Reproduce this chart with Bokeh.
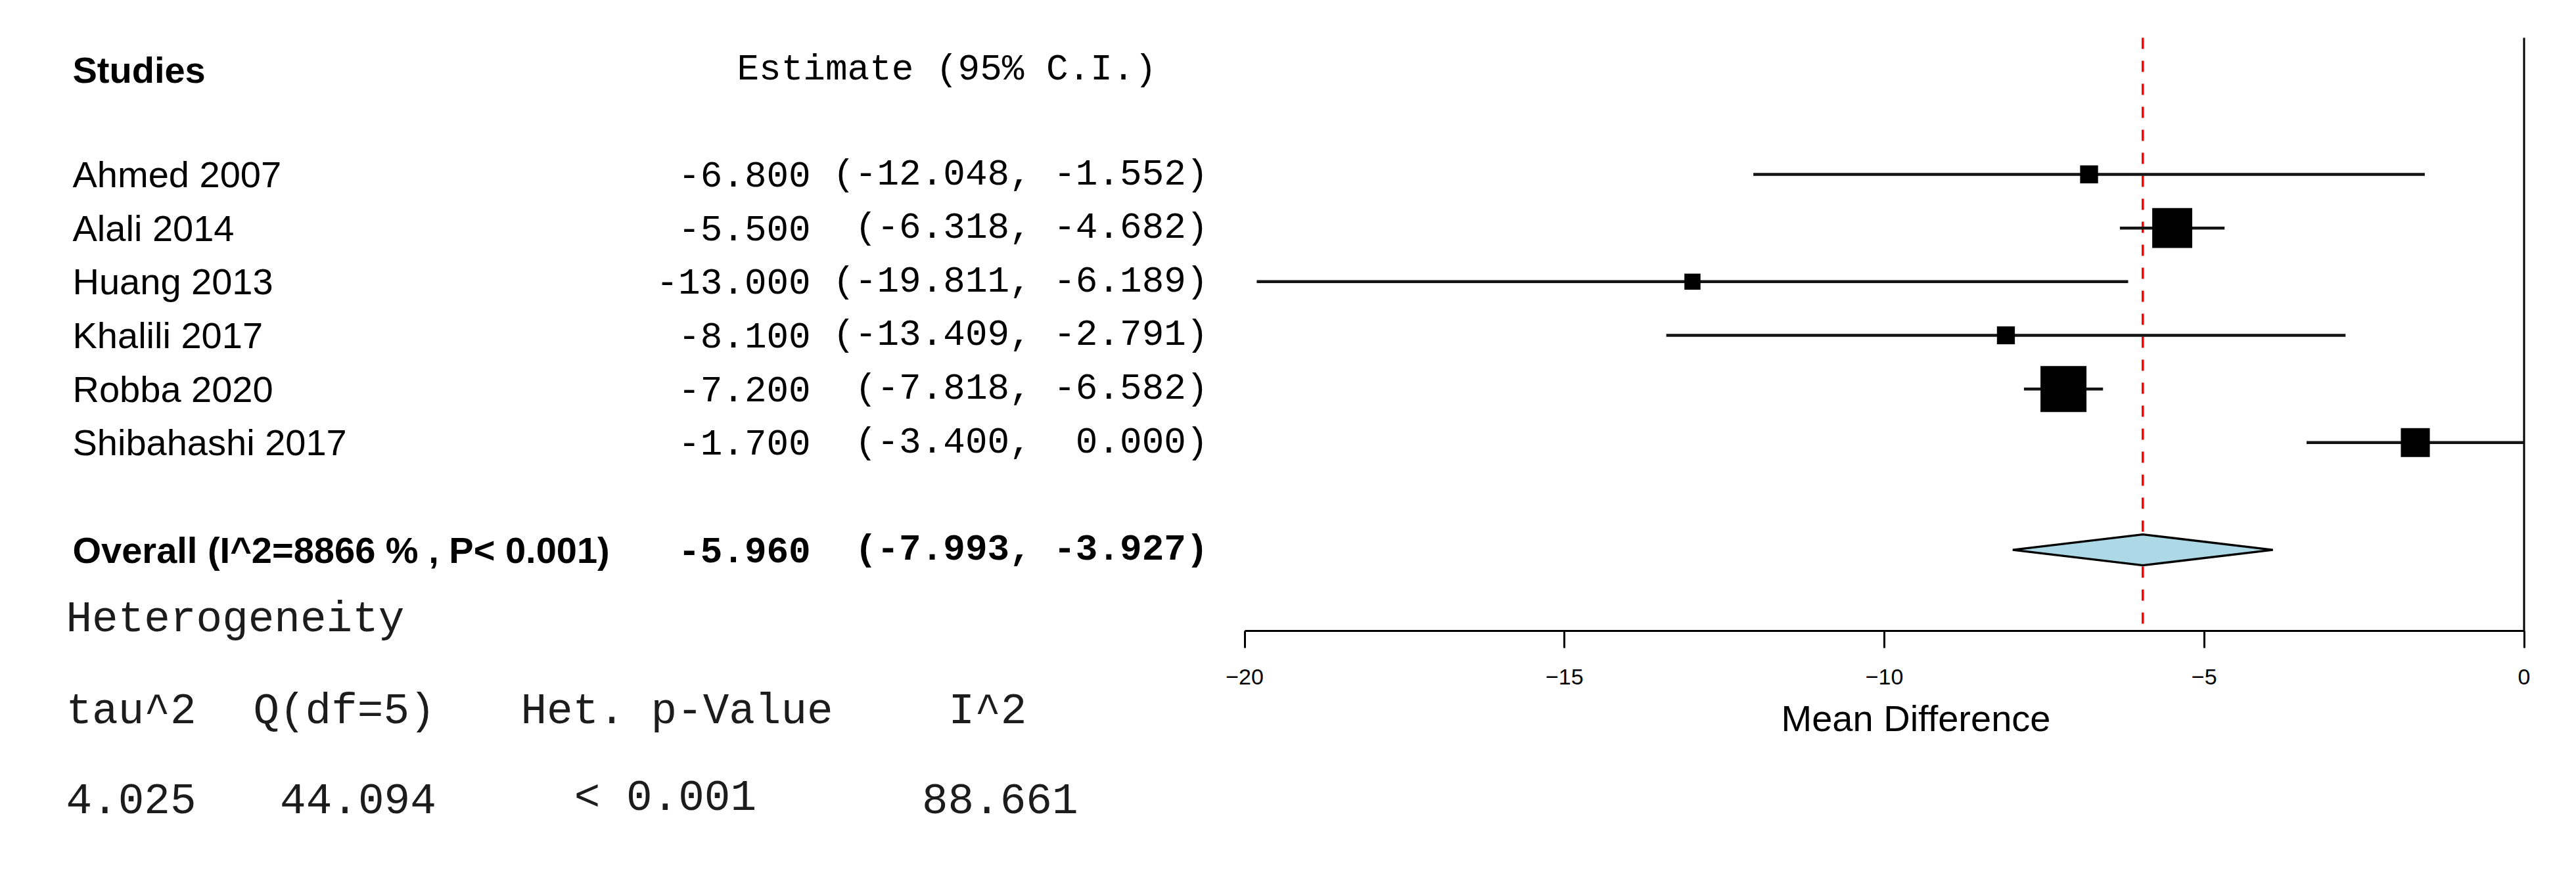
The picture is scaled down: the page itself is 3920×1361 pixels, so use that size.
from bokeh.plotting import figure
from bokeh.layouts import row
from bokeh.models import Range1d, FixedTicker, CustomJSTickFormatter
from bokeh.core.properties import value
from bokeh.embed import file_html
from bokeh.resources import INLINE

# ---------------- data ----------------
studies = ["Ahmed  2007", "Alali 2014", "Huang 2013", "Khalili 2017", "Robba 2020", "Shibahashi 2017"]
estimates = [-6.800, -5.500, -13.000, -8.100, -7.200, -1.700]
ci_lower = [-12.048, -6.318, -19.811, -13.409, -7.818, -3.400]
ci_upper = [-1.552, -4.682, -6.189, -2.791, -6.582, 0.000]
weights = [3.9, 8.7, 3.5, 3.9, 10.0, 6.3]   # relative box weights

overall_label = "Overall (I^2=8866 % , P< 0.001)"
overall_est = -5.960
overall_lower = -7.993
overall_upper = -3.927

col_studies = "Studies"
col_estimate = "Estimate (95% C.I.)"
het_title = "Heterogeneity"
het_headers = ["tau^2", "Q(df=5)", "Het. p-Value", "I^2"]
het_values = ["4.025", "44.094", "< 0.001", "88.661"]

x_ticks = [-20, -15, -10, -5, 0]
x_tick_labels = ["\u221220", "\u221215", "\u221210", "\u22125", "0"]
x_label = "Mean Difference"

# ---------------- layout constants (screen px) ----------------
W_TOTAL = 3904
H = 1345
W_LEFT = 1860
ROW0 = 265.0      # screen y of first study row centre
ROW_H = 81.66     # row pitch
BOX_SCALE = 7.0   # px per weight unit
MONO_CW = 0.6 * 56
SANS = value("Liberation Sans")
MONO = value("Liberation Mono")


def row_px(i):
    return ROW0 + i * ROW_H


def px_row(px):
    return (px - ROW0) / ROW_H


n = len(studies)
overall_row = n + 1

# ---------------- left text panel ----------------
left = figure(width=W_LEFT, height=H,
              x_range=Range1d(0, W_LEFT), y_range=Range1d(H, 0),
              output_backend="svg", toolbar_location=None,
              x_axis_location=None, y_axis_location=None, min_border=0)
left.title.visible = False
left.outline_line_color = None
left.grid.visible = False
left.background_fill_color = "white"
left.border_fill_color = "white"

common = dict(text_baseline="middle", text_color="black")

HEADER_Y = row_px(-2) + 4
left.text(x=[110], y=[HEADER_Y], text=[col_studies], text_font=SANS,
          text_font_style="bold", text_font_size="56px", text_align="left", **common)
left.text(x=[1121], y=[HEADER_Y], text=[col_estimate], text_font=MONO,
          text_font_size="56px", text_align="left", **common)

# study names
left.text(x=[110] * n, y=[row_px(i) for i in range(n)], text=studies,
          text_font=SANS, text_font_size="56px", text_align="left", **common)

# estimate columns, right aligned in a monospace grid
X_END = 1838
est_txt = [format(e, ".3f") for e in estimates]
lo_txt = ["(" + format(v, ".3f") + "," for v in ci_lower]
hi_txt = [format(v, ".3f") + ")" for v in ci_upper]
ys_est = [row_px(i) for i in range(n)]
left.text(x=[X_END - 18 * MONO_CW] * n, y=ys_est, text=est_txt, text_font=MONO,
          text_font_size="56px", text_align="right", **common)
left.text(x=[X_END - 8 * MONO_CW] * n, y=ys_est, text=lo_txt, text_font=MONO,
          text_font_size="56px", text_align="right", **common)
left.text(x=[X_END] * n, y=ys_est, text=hi_txt, text_font=MONO,
          text_font_size="56px", text_align="right", **common)

# overall row
left.text(x=[110], y=[row_px(overall_row)], text=[overall_label],
          text_font=SANS, text_font_style="bold", text_font_size="56px", text_align="left", **common)
y_ov = row_px(overall_row)
left.text(x=[X_END - 18 * MONO_CW, X_END - 8 * MONO_CW, X_END], y=[y_ov] * 3,
          text=[format(overall_est, ".3f"), "(" + format(overall_lower, ".3f") + ",",
                format(overall_upper, ".3f") + ")"],
          text_font=MONO, text_font_style="bold", text_font_size="56px", text_align="right", **common)

# heterogeneity table
HET_COL_W = 40.7
het_common = dict(text_font=MONO, text_font_size="66px", text_color="#1c1c1c",
                  text_baseline="middle", text_align="left")
left.text(x=[100], y=[943], text=[het_title], **het_common)
head_cols = [0, 7, 17, 33]
val_cols = [0, 8, 19, 32]
left.text(x=[100 + c * HET_COL_W for c in head_cols], y=[1083] * len(het_headers),
          text=het_headers, **het_common)
left.text(x=[100 + c * HET_COL_W for c in val_cols], y=[1215] * len(het_values),
          text=het_values, **het_common)

# ---------------- right forest panel ----------------
PX_PER_UNIT = 97.35
X_M20_PX = 1893.5    # screen x of -20
AXIS_PX = 960        # screen y of the x axis line
TOP_PX = 57          # screen y where the vertical reference lines start
x_start = -20 + (W_LEFT - X_M20_PX) / PX_PER_UNIT
x_end = -20 + (W_TOTAL - X_M20_PX) / PX_PER_UNIT
y_top = px_row(0)
y_bot = px_row(H)

right = figure(width=W_TOTAL - W_LEFT, height=H,
               x_range=Range1d(x_start, x_end), y_range=Range1d(y_bot, y_top),
               output_backend="svg", toolbar_location=None, y_axis_location=None,
               min_border=0)
right.title.visible = False
right.outline_line_color = None
right.grid.visible = False
right.background_fill_color = "white"
right.border_fill_color = "white"

xa = right.xaxis[0]
xa.fixed_location = px_row(AXIS_PX)
xa.ticker = FixedTicker(ticks=x_ticks)
xa.formatter = CustomJSTickFormatter(
    args=dict(tick_vals=x_ticks, tick_labs=x_tick_labels),
    code="const i = tick_vals.indexOf(tick); return i >= 0 ? tick_labs[i] : String(tick);")
xa.bounds = (x_ticks[0], x_ticks[-1])
xa.axis_line_width = 3
xa.axis_line_color = "black"
xa.major_tick_line_width = 3
xa.major_tick_line_color = "black"
xa.major_tick_out = 26
xa.major_tick_in = 0
xa.minor_tick_out = 0
xa.minor_tick_in = 0
xa.major_label_text_font = "Liberation Sans"
xa.major_label_text_font_size = "34px"
xa.major_label_text_color = "black"
xa.major_label_standoff = 32

y_line_top = px_row(TOP_PX)
y_line_bot = px_row(AXIS_PX)
# pooled-estimate reference line (under everything)
right.segment(x0=[overall_est], y0=[y_line_top], x1=[overall_est], y1=[y_line_bot],
              line_color="red", line_width=3.5, line_dash="17 18")
# null line
right.segment(x0=[0], y0=[y_line_top], x1=[0], y1=[y_line_bot],
              line_color="black", line_width=3)

ys = list(range(n))
right.segment(x0=ci_lower, y0=ys, x1=ci_upper, y1=ys, line_color="#141414", line_width=4.5)
right.scatter(x=estimates, y=ys, size=[w * BOX_SCALE for w in weights], marker="square",
              fill_color="black", line_color=None)

DIAMOND_H = 23.5 / ROW_H
right.patch(x=[overall_lower, overall_est, overall_upper, overall_est],
            y=[overall_row, overall_row - DIAMOND_H, overall_row, overall_row + DIAMOND_H],
            fill_color="#add8e6", line_color="black", line_width=3.5)

right.text(x=[-20 + (2915 - X_M20_PX) / PX_PER_UNIT], y=[px_row(1093)], text=[x_label],
           text_font=SANS, text_font_size="56px", text_color="black",
           text_align="center", text_baseline="middle")

layout = row(left, right)
open("out.html", "w").write(file_html(layout, INLINE, title="Forest plot"))
